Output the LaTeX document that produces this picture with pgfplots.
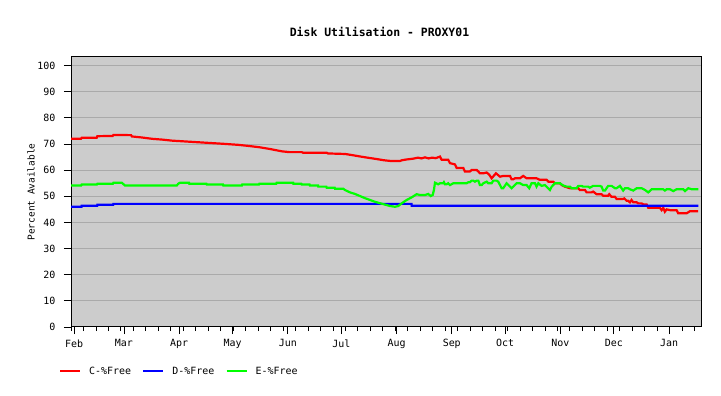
\documentclass[border=0pt]{standalone}
\usepackage{fontspec}
\setmainfont{DejaVu Sans Mono}
\usepackage{pgfplots}
\pgfplotsset{compat=1.18}
\definecolor{bggray}{RGB}{204,204,204}
\definecolor{gridgray}{RGB}{170,170,170}
\definecolor{cred}{RGB}{255,0,0}
\definecolor{cblue}{RGB}{0,0,255}
\definecolor{cgreen}{RGB}{0,255,0}
\begin{document}
\begin{tikzpicture}
\path[use as bounding box] (0,0) rectangle (721bp,396bp);
\begin{axis}[
  at={(71bp,69bp)}, anchor=south west,
  scale only axis, width=630bp, height=270bp,
  xmin=-1.7, xmax=351.9, ymin=0, ymax=103.3,
  axis background/.style={fill=bggray},
  axis line style={black, line width=1bp},
  xtick={0,28,59,89,120,150,181,212,242,273,303,334},
  xticklabels={Feb,Mar,Apr,May,Jun,Jul,Aug,Sep,Oct,Nov,Dec,Jan},
  minor xtick={-1.7,5.3,...,350},
  ytick={0,10,...,100},
  tick align=outside, tick pos=left,
  major tick length=7bp, minor tick length=4bp,
  tick style={black, line width=0.8bp},
  ymajorgrids, major grid style={gridgray, line width=1bp},
  /pgf/number format/assume math mode=true,
  ticklabel style={font=\fontsize{10}{12}\selectfont},
  xticklabel style={yshift=-2bp},
  yticklabel style={xshift=-5bp},
  title={Disk Utilisation - PROXY01},
  title style={at={(axis description cs:0.4897,1.0926)}, anchor=center, yshift=-6bp, font=\bfseries\fontsize{11.5}{13}\selectfont},
  ylabel={Percent Available},
  ylabel style={at={(axis description cs:-0.0635,0.5)}, anchor=center, font=\fontsize{9.5}{11}\selectfont},
  legend columns=3,
  legend image code/.code={\draw[#1, line width=2.2bp] (0bp,0bp) -- (20bp,0bp);},
  legend style={at={(axis description cs:-0.0190,-0.1640)}, anchor=west, draw=none, fill=none,
    inner sep=0pt, outer sep=0pt, font=\fontsize{10}{12}\selectfont,
    nodes={inner xsep=0pt, inner ysep=1bp},
    /tikz/every odd column/.append style={column sep=8bp},
    /tikz/every even column/.append style={column sep=11bp}},
]
\addplot[cred, line width=2.2bp] coordinates {
(-1.7,72.0) (3.9,72.0) (4.3,72.4) (12.7,72.4) (13.1,73.0) (21.7,73.1) (22.1,73.5) (32.0,73.4) (32.5,72.9)
(38.2,72.5) (43.8,72.0) (49.4,71.7) (55.0,71.3) (64.5,70.9) (74.0,70.5) (83.6,70.1) (92.0,69.7) (97.6,69.3)
(103.8,68.8) (110.0,68.1) (116.7,67.2) (121.0,66.9) (127.8,66.9) (128.5,66.7) (141.8,66.7) (142.5,66.4)
(152.1,66.2) (155.8,65.8) (159.2,65.4) (162.7,65.0) (166.5,64.6) (170.4,64.2) (173.8,63.8) (178,63.5)
(182.9,63.5) (184,63.8) (186.7,64.1) (190.4,64.4) (193,64.8) (195,64.5) (197,64.9) (199,64.5) (201,64.8)
(203,64.6) (205.4,65.2) (206.3,64.0) (210,64.0) (211,62.7) (213.8,62.2) (214.8,60.8) (218.5,60.8)
(219.4,59.5) (222.2,59.5) (223.2,60.1) (226,60.1) (226.9,59.5) (227.8,58.8) (229.7,58.8) (231.6,59.1)
(233,58.3) (234.4,56.9) (236.8,58.8) (239.1,57.5) (240.9,57.8) (244.7,57.8) (245.6,56.5) (246.5,56.5)
(247.5,56.9) (250.3,56.9) (252.1,57.8) (254,56.9) (259.6,56.9) (261.5,56.3) (265.3,56.3) (266.2,55.6)
(269,55.6) (269.9,55.0) (272.7,55.0) (273.7,54.3) (275.5,53.7) (278.3,53.1) (283,53.1) (283.9,52.4)
(286.8,52.4) (287.7,51.5) (290.5,51.5) (291.4,51.8) (293.3,50.8) (296.1,50.8) (297,50.2) (299.8,50.2)
(300.4,50.8) (301.7,49.8) (303.6,49.8) (304.5,49.0) (308.2,49.0) (308.8,49.2) (310.2,48.3) (311,48.3)
(312,47.7) (312.9,48.6) (313.9,47.7) (315.8,47.7) (316.7,47.3) (318.6,47.3) (319.5,46.9) (321.4,46.9)
(322.3,45.6) (328.8,45.6) (329.8,44.7) (330.7,45.6) (331.6,44.1) (332.6,45.0) (334.5,44.7) (338.2,44.7)
(339.1,43.5) (343.8,43.5) (345.7,44.3) (350.3,44.3)
};
\addlegendentry{C-\%Free}
\addplot[cblue, line width=2.2bp] coordinates {
(-1.7,46.0) (4.2,46.0) (4.3,46.4) (13.0,46.4) (13.1,46.8) (22.0,46.8) (22.1,47.1) (189.4,47.1) (189.5,46.4) (350.4,46.4)
};
\addlegendentry{D-\%Free}
\addplot[cgreen, line width=2.2bp] coordinates {
(-1.7,54.1) (4.0,54.1) (4.3,54.5) (12.8,54.5) (13.1,54.8) (21.8,54.8) (22.1,55.2) (26.8,55.2) (27.8,54.6)
(28.6,54.1) (57.6,54.1) (58.5,54.8) (59.5,55.2) (64.5,55.2) (64.7,54.8) (74.3,54.8) (74.5,54.5) (83.6,54.5)
(83.8,54.1) (94.2,54.1) (94.4,54.5) (103.8,54.5) (104,54.8) (113.5,54.8) (113.7,55.2) (123,55.2) (123.1,54.8)
(127.6,54.8) (127.8,54.5) (132.2,54.5) (132.4,54.1) (137,54.1) (137.1,53.7) (141.6,53.7) (141.8,53.3)
(146.3,53.3) (146.5,52.9) (151.1,52.9) (152.1,52.4) (154.9,51.5) (157.7,50.9) (160.5,50.1) (163.3,49.3)
(166.1,48.6) (168.9,47.9) (173.6,47.0) (177.3,46.3) (180.1,46.0) (182,46.3) (183.9,47.3) (186.7,48.6)
(189.5,49.6) (192.3,50.8) (194.2,50.5) (197,50.5) (198.8,50.9) (200.2,50.1) (201.3,50.5) (202,52.4)
(202.6,55.2) (204.4,54.6) (205.4,55.0) (207.2,55.0) (207.6,55.4) (208.2,54.6) (209.1,54.6) (210,55.0)
(211,54.3) (212.9,55.0) (220.4,55.0) (221.3,55.4) (222.2,55.4) (223.2,56.0) (224.1,56.0) (225,55.6)
(226,56.0) (226.9,56.0) (227.8,54.3) (228.8,54.3) (229.7,55.0) (231.6,55.6) (232.5,55.0) (234.4,55.0)
(235.3,56.0) (237.2,56.0) (238.1,55.6) (239.1,54.3) (240,53.1) (240.9,53.1) (242.8,55.0) (244.7,53.7)
(245.6,53.1) (248.4,55.0) (250.3,55.0) (252.1,54.3) (254,54.3) (255.5,53.1) (256.8,55.0) (258.7,55.0)
(259.6,53.7) (260.6,55.0) (262.4,54.0) (264.3,54.3) (267.1,52.4) (268.1,53.7) (269.9,55.0) (272.7,55.0)
(274.6,54.1) (276.5,53.7) (278.3,53.7) (279.3,53.1) (282.1,53.1) (283,54.0) (284.9,54.0) (285.8,53.7)
(288.6,53.7) (289.5,53.3) (291.4,54.0) (295.1,54.0) (296.1,53.7) (297,52.2) (298,52.2) (299.8,54.0)
(301.7,54.0) (303.6,53.1) (304.5,53.1) (306.4,54.0) (308.2,52.2) (309.2,53.1) (311,53.1) (312,52.7)
(313.9,52.2) (315.8,53.1) (318.6,53.1) (320.5,52.4) (322.3,51.5) (324.2,52.7) (330.7,52.7) (331.6,52.2)
(332.6,52.7) (334.5,52.7) (336.3,52.0) (338.2,52.7) (342,52.7) (342.9,52.0) (344.8,53.1) (346.6,52.7)
(350.4,52.7)
};
\addlegendentry{E-\%Free}
\end{axis}
\end{tikzpicture}
\end{document}
